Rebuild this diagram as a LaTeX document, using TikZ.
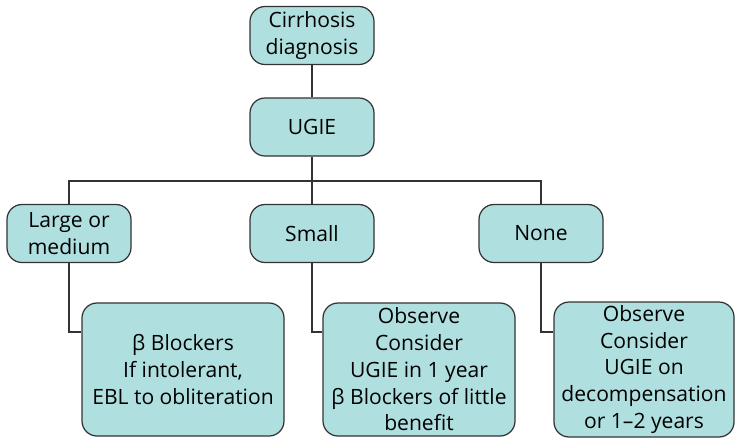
\documentclass[tikz,border=0pt]{standalone}
\usepackage{fontspec}
\setmainfont{Open Sans}
\usetikzlibrary{positioning}
\definecolor{boxfill}{RGB}{176,223,224}
\definecolor{boxline}{RGB}{51,51,51}

\begin{document}
\begin{tikzpicture}[
    box/.style={draw=boxline,fill=boxfill,line width=0.7pt,rounded corners=0.3cm,
        align=center,inner sep=2pt,font=\fontsize{12}{15.2}\selectfont},
    topbox/.style={box,minimum width=2.48cm,minimum height=1.16cm},
    endbox/.style={box,minimum height=2.66cm},
    link/.style={draw=boxline,line width=0.7pt}
]
    \useasboundingbox (0,0) rectangle (14.7,-8.74);
    \node [topbox] (cirr) at (6.24,-0.71) {Cirrhosis\\diagnosis};
    \node [topbox] (ugie) at (6.24,-2.54) {UGIE};
    \node [topbox] (large) at (1.38,-4.67) {Large or\\medium};
    \node [topbox] (small) at (6.24,-4.67) {Small};
    \node [topbox] (none) at (10.82,-4.67) {None};
    \node [endbox,minimum width=4.04cm] (blk) at (3.66,-7.39) {β Blockers\\If intolerant,\\EBL to obliteration};
    \node [endbox,minimum width=3.84cm] (obs) at (8.38,-7.39) {Observe\\Consider\\UGIE in 1 year\\β Blockers of little\\benefit};
    \node [endbox,minimum width=3.6cm] (dec) at (12.88,-7.39) {Observe\\Consider\\UGIE on\\decompensation\\or 1--2 years};
    \coordinate (split) at (6.24,-3.62);
    \draw [link] (cirr) -- (ugie);
    \draw [link] (ugie) -- (split);
    \draw [link] (large.north) |- (split) -| (none.north);
    \draw [link] (split) -- (small);
    \draw [link] (large.south) |- ([yshift=0.75cm]blk.west);
    \draw [link] (small.south) |- ([yshift=0.75cm]obs.west);
    \draw [link] (none.south) |- ([yshift=0.75cm]dec.west);
\end{tikzpicture}
\end{document}
